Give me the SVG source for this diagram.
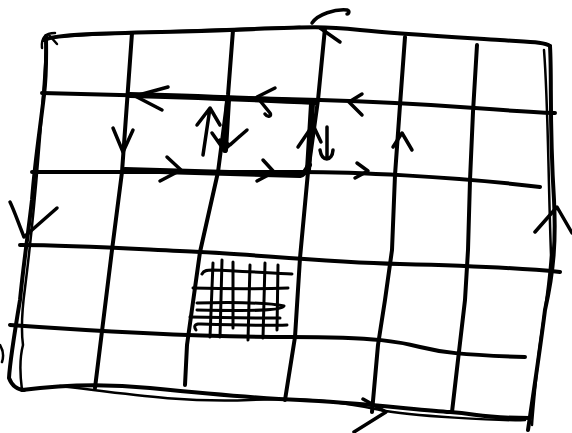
<svg xmlns="http://www.w3.org/2000/svg" width="572" height="433" viewBox="0 0 572 433">
<style>
.s{fill:none;stroke:#000;stroke-linecap:round;stroke-linejoin:round}
.m{stroke-width:4}
.t{stroke-width:2.5}
.a{stroke-width:3.5}
.f{stroke-width:3}
.k{stroke-width:6}
</style>
<rect width="572" height="433" fill="#fff"/>
<g id="frame" class="s">
<path class="m" d="M44,40 C60,32 150,33 230,30 S320,26 360,30 S470,38 500,40 S545,42 550,46"/>
<path class="t" d="M55,37 C150,31 230,29 300,27"/>
<path class="t" d="M42,48 C41,38 45,33 55,33 M49,35 L57,44"/>
<path class="m" d="M46,36 C46,50 47,70 44,95 C40,130 35,160 32,200 C28,235 24,260 20,300 C15,330 10,360 9,378 C12,386 18,390 24,390"/>
<path class="t" d="M46,50 C40,150 31,240 25,288 C22,310 21,330 23,345 C19,360 20,375 22,390"/>
<path class="m" d="M22,390 C60,385 100,383 150,388 S250,398 300,400 S420,410 450,412 S480,418 530,418"/>
<path class="t" d="M60,386 C120,393 180,403 250,400 S350,404 380,410 S500,421 525,420"/>
<path class="m" d="M550,46 C552,80 549,120 554,200 C556,240 554,270 545,310 C540,350 534,390 528,430"/>
<path class="t" d="M544,50 C548,100 548,170 551,255 C548,300 541,330 538,360 C535,390 533,410 532,425"/>
<path class="t" d="M0,345 C3,350 4,356 2,362"/>
</g>
<g id="grid" class="s m">
<path d="M42,93 C100,94 200,97 320,100 S480,110 555,113"/>
<path d="M32,172 C120,172 250,172 300,172 S450,176 540,187"/>
<path d="M20,245 C80,245 150,250 200,252 S320,262 400,264 S520,268 560,272"/>
<path d="M10,325 C80,330 200,337 290,337 S400,342 420,347 S460,355 525,357"/>
<path d="M132,33 L122,172 L112,250 L95,388"/>
<path d="M233,30 L228,95 L218,172 L200,252 L187,345 L185,385"/>
<path d="M325,28 L318,100 L308,172 L300,258 L295,337 L285,400"/>
<path d="M405,37 L400,105 L395,175 L392,250 L385,300 L378,345 L372,412"/>
<path d="M477,45 L473,112 L470,180 L468,250 L465,300 L458,360 L452,412"/>
</g>
<g id="loop" class="s">
<path class="k" d="M130,95 C200,97 260,99 315,102"/>
<path class="k" d="M125,170 C200,172 260,174 300,175 C305,174 307,170 309,165"/>
<path class="k" d="M228,100 L225,150"/>
<path class="k" d="M312,104 L308,170"/>
</g>
<g id="arrows" class="s a">
<path d="M168,87 L135,96 L162,110"/>
<path d="M113,128 L123,152 L133,130"/>
<path d="M167,157 L181,170 L160,181"/>
<path d="M203,155 L210,108 M197,125 L210,108 L220,125"/>
<path d="M212,133 L224,150 L247,130 M220,140 L230,145 L240,136"/>
<path d="M275,88 L257,97 L270,113 C272,116 268,118 265,114"/>
<path d="M362,94 L349,102 L362,115"/>
<path d="M298,147 L313,125 L321,142"/>
<path d="M327,127 L327,158 M320,150 C322,162 332,162 333,150"/>
<path d="M263,160 L274,172 L257,181"/>
<path d="M357,163 L368,171 L355,178"/>
<path d="M393,147 L402,133 L412,150"/>
<path d="M10,202 C14,210 18,222 24,237 L57,208"/>
<path d="M535,232 L557,207 L572,233"/>
<path d="M312,23 C318,14 335,9 347,10 C350,11 349,14 347,14 M320,28 L340,42"/>
<path d="M363,399 L386,412 L354,432"/>
</g>
<g id="fine" class="s f">
<path d="M213,263 L210,337"/>
<path d="M222,260 L220,337"/>
<path d="M233,262 L233,328"/>
<path d="M250,265 L248,340"/>
<path d="M265,263 L263,338"/>
<path d="M278,265 L277,330"/>
<path d="M202,274 C204,270 208,270 212,270 C240,271 270,273 292,274"/>
<path d="M193,288 C230,289 260,289 288,288"/>
<path d="M197,303 C240,302 270,303 284,306 C282,311 250,311 197,310"/>
<path d="M190,317 C230,318 260,318 280,318"/>
<path d="M196,330 C194,327 194,325 198,324 C230,325 260,326 287,325"/>
</g>
</svg>
